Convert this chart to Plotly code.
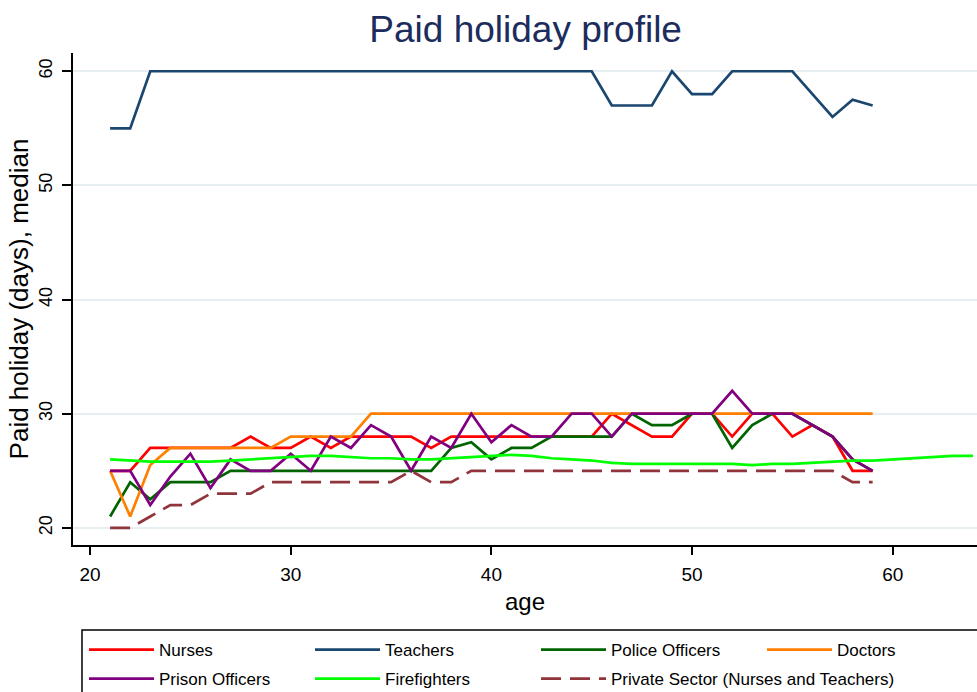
import plotly.graph_objects as go

ages = list(range(21, 60))
fire_ages = list(range(21, 65))

nurses = [25, 25, 27, 27, 27, 27, 27, 28, 27, 27, 28, 27, 28, 28, 28, 28, 27, 28, 28, 28,
          28, 28, 28, 28, 28, 30, 29, 28, 28, 30, 30, 28, 30, 30, 28, 29, 28, 25, 25]
teachers = [55, 55, 60, 60, 60, 60, 60, 60, 60, 60, 60, 60, 60, 60, 60, 60, 60, 60, 60, 60,
            60, 60, 60, 60, 60, 57, 57, 57, 60, 58, 58, 60, 60, 60, 60, 58, 56, 57.5, 57]
police = [21, 24, 22.5, 24, 24, 24, 25, 25, 25, 25, 25, 25, 25, 25, 25, 25, 25, 27, 27.5, 26,
          27, 27, 28, 28, 28, 28, 30, 29, 29, 30, 30, 27, 29, 30, 30, 29, 28, 26, 25]
doctors = [25, 21, 25.5, 27, 27, 27, 27, 27, 27, 28, 28, 28, 28, 30, 30, 30, 30, 30, 30, 30,
           30, 30, 30, 30, 30, 30, 30, 30, 30, 30, 30, 30, 30, 30, 30, 30, 30, 30, 30]
prison = [25, 25, 22, 24.5, 26.5, 23.5, 26, 25, 25, 26.5, 25, 28, 27, 29, 28, 25, 28, 27, 30, 27.5,
          29, 28, 28, 30, 30, 28, 30, 30, 30, 30, 30, 32, 30, 30, 30, 29, 28, 26, 25]
firefighters = [26.0, 25.9, 25.8, 25.8, 25.8, 25.8, 25.9, 26.0, 26.1, 26.2, 26.3, 26.3, 26.2, 26.1,
                26.1, 26.0, 26.0, 26.1, 26.2, 26.3, 26.4, 26.3, 26.1, 26.0, 25.9, 25.7, 25.6, 25.6,
                25.6, 25.6, 25.6, 25.6, 25.5, 25.6, 25.6, 25.7, 25.8, 25.9, 25.9, 26.0, 26.1, 26.2,
                26.3, 26.3]
private = [20, 20, 21, 22, 22, 23, 23, 23, 24, 24, 24, 24, 24, 24, 24, 25, 24, 24, 25, 25,
           25, 25, 25, 25, 25, 25, 25, 25, 25, 25, 25, 25, 25, 25, 25, 25, 25, 24, 24]

x_ticks = [20, 30, 40, 50, 60]
y_ticks = [20, 30, 40, 50, 60]

# (name, x, y, colour, dash, legend row)
series = [
    ("Nurses", ages, nurses, "#ff0000", "solid", "legend"),
    ("Teachers", ages, teachers, "#1a476f", "solid", "legend"),
    ("Police Officers", ages, police, "#006400", "solid", "legend"),
    ("Doctors", ages, doctors, "#ff7f00", "solid", "legend"),
    ("Prison Officers", ages, prison, "#800080", "solid", "legend2"),
    ("Firefighters", fire_ages, firefighters, "#00ff00", "solid", "legend2"),
    ("Private Sector (Nurses and Teachers)", ages, private, "#90353b", "20px,9px", "legend2"),
]

fig = go.Figure()
for name, xs, ys, color, dash, lg in series:
    extra = {"legendwidth": 310} if name.startswith("Private") else {}
    fig.add_trace(go.Scatter(x=xs, y=ys, mode="lines", name=name, legend=lg,
                             line=dict(color=color, width=2.7, dash=dash), **extra))

FONT = "Liberation Sans, Arial, sans-serif"
W, H = 977, 692
ML, MR, MT, MB = 73, 0, 53, 147
legend_common = dict(orientation="h", xref="container", yref="container",
                     x=84 / W, xanchor="left", yanchor="top",
                     borderwidth=0, bgcolor="rgba(0,0,0,0)",
                     entrywidth=146, entrywidthmode="pixels", itemwidth=65,
                     font=dict(size=17, family=FONT), traceorder="normal")

fig.update_layout(
    width=W, height=H,
    margin=dict(l=ML, r=MR, t=MT, b=MB),
    paper_bgcolor="white", plot_bgcolor="white",
    font=dict(family=FONT, color="black"),
    title=dict(text="Paid holiday profile", x=0.538, xanchor="center",
               y=1 - 29 / H, yanchor="middle", yref="container",
               font=dict(size=37, color="#1c2c5c", family=FONT)),
    xaxis=dict(range=[19.15, 64.2], tickvals=x_ticks, showgrid=False, zeroline=False,
               automargin=False,
               showline=True, linecolor="black", linewidth=1.5,
               ticks="outside", ticklen=8, tickwidth=1.5, tickcolor="black",
               tickfont=dict(size=19), ticklabelstandoff=3,
               title=dict(text="age", font=dict(size=24), standoff=10)),
    yaxis=dict(range=[18.5, 61.6], tickvals=y_ticks, showgrid=True, gridcolor="#e6eef2",
               gridwidth=1.5, zeroline=False, automargin=False,
               showline=True, linecolor="black", linewidth=1.5,
               ticks="outside", ticklen=9, tickwidth=1.5, tickcolor="black",
               tickangle=-90, tickfont=dict(size=18), ticklabelstandoff=3,
               title=dict(text="Paid holiday (days), median", font=dict(size=26), standoff=0)),
    legend=dict(legend_common, y=1 - 632 / H),
    legend2=dict(legend_common, y=1 - 661 / H),
    shapes=[dict(type="rect", xref="paper", yref="paper",
                 x0=(82 - ML) / (W - ML - MR), x1=1.05,
                 y0=-(630 - MT - (H - MT - MB)) / (H - MT - MB), y1=-0.4,
                 line=dict(color="black", width=1.5), fillcolor="rgba(0,0,0,0)",
                 layer="below")],
)

fig.write_html("out.html", config={"displayModeBar": False},
               post_script="document.body.style.margin='0';document.body.style.padding='0';")
